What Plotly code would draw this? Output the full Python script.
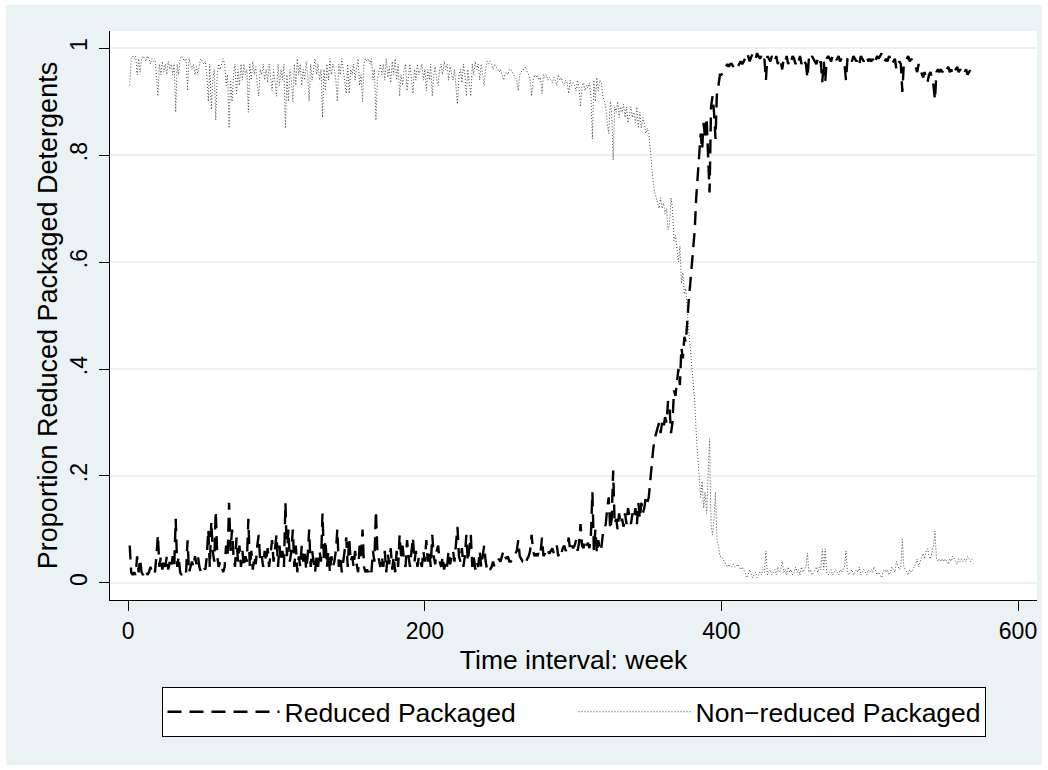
import plotly.graph_objects as go

weeks = list(range(1, 571))

reduced = [
    0.07, 0.02, 0.015, 0.02, 0.015, 0.05, 0.02, 0.045, 0.02, 0.015,
    0.02, 0.025, 0.015, 0.02, 0.03, 0.02, 0.025, 0.02, 0.05, 0.09,
    0.03, 0.05, 0.025, 0.045, 0.03, 0.05, 0.025, 0.04, 0.03, 0.05,
    0.03, 0.12, 0.03, 0.05, 0.02, 0.015, 0.02, 0.025, 0.02, 0.08,
    0.02, 0.03, 0.04, 0.03, 0.05, 0.035, 0.05, 0.03, 0.02, 0.025,
    0.03, 0.025, 0.05, 0.1, 0.03, 0.115, 0.06, 0.04, 0.135, 0.05,
    0.03, 0.04, 0.03, 0.02, 0.03, 0.07, 0.05, 0.15, 0.06, 0.1,
    0.05, 0.03, 0.085, 0.04, 0.07, 0.03, 0.06, 0.03, 0.05, 0.04,
    0.12, 0.03, 0.06, 0.025, 0.05, 0.035, 0.07, 0.09, 0.04, 0.05,
    0.03, 0.06, 0.04, 0.065, 0.03, 0.05, 0.08, 0.04, 0.06, 0.09,
    0.03, 0.07, 0.04, 0.06, 0.03, 0.15, 0.05, 0.1, 0.04, 0.06,
    0.1, 0.03, 0.07, 0.02, 0.05, 0.03, 0.07, 0.04, 0.06, 0.025,
    0.05, 0.1, 0.03, 0.06, 0.04, 0.02, 0.05, 0.03, 0.06, 0.04,
    0.13, 0.04, 0.08, 0.03, 0.06, 0.02, 0.05, 0.03, 0.04, 0.06,
    0.1, 0.03, 0.05, 0.02, 0.04, 0.07, 0.085, 0.03, 0.085, 0.04,
    0.05, 0.03, 0.06, 0.035, 0.02, 0.07, 0.05, 0.1, 0.03, 0.02,
    0.025, 0.02, 0.03, 0.02, 0.06, 0.04, 0.135, 0.06, 0.04, 0.03,
    0.05, 0.03, 0.06, 0.02, 0.055, 0.035, 0.065, 0.025, 0.05, 0.02,
    0.06, 0.03, 0.09, 0.05, 0.07, 0.04, 0.03, 0.08, 0.05, 0.03,
    0.06, 0.085, 0.04, 0.06, 0.03, 0.05, 0.04, 0.03, 0.06, 0.04,
    0.08, 0.04, 0.06, 0.03, 0.09, 0.05, 0.035, 0.06, 0.07, 0.04,
    0.03, 0.05, 0.025, 0.04, 0.03, 0.06, 0.035, 0.05, 0.06, 0.04,
    0.07, 0.105, 0.05, 0.04, 0.065, 0.03, 0.05, 0.09, 0.04, 0.06,
    0.09, 0.03, 0.05, 0.025, 0.04, 0.03, 0.06, 0.03, 0.05, 0.07,
    0.04, 0.025, 0.03, 0.025, 0.03, 0.04, 0.03, 0.035, 0.04, 0.045,
    0.04, 0.05, 0.06, 0.05, 0.045, 0.05, 0.04, 0.04, 0.045, 0.05,
    0.055, 0.06, 0.08, 0.05, 0.045, 0.04, 0.04, 0.035, 0.045, 0.05,
    0.06, 0.09, 0.06, 0.05, 0.055, 0.05, 0.06, 0.055, 0.085, 0.05,
    0.055, 0.05, 0.06, 0.055, 0.06, 0.065, 0.055, 0.06, 0.07, 0.05,
    0.06, 0.055, 0.065, 0.07, 0.06, 0.065, 0.085, 0.06, 0.07, 0.065,
    0.07, 0.08, 0.06, 0.075, 0.11, 0.07, 0.065, 0.08, 0.07, 0.075,
    0.065, 0.09, 0.17, 0.06, 0.1, 0.055, 0.08, 0.06, 0.065, 0.09,
    0.1, 0.11, 0.14, 0.16, 0.1, 0.12, 0.21, 0.11, 0.12, 0.1,
    0.13, 0.11, 0.12, 0.105, 0.13, 0.11, 0.14, 0.12, 0.11, 0.13,
    0.12, 0.14, 0.11, 0.15, 0.12, 0.15, 0.13, 0.14, 0.16, 0.15,
    0.16, 0.19, 0.23, 0.25, 0.27, 0.28, 0.29, 0.3, 0.28, 0.3,
    0.29, 0.31, 0.3, 0.34, 0.33, 0.28, 0.3, 0.36, 0.35, 0.38,
    0.4, 0.37, 0.44, 0.42, 0.46, 0.45, 0.5, 0.53, 0.56, 0.6,
    0.62, 0.66, 0.72, 0.77, 0.8, 0.84, 0.81, 0.86, 0.83, 0.87,
    0.8, 0.73, 0.89, 0.91, 0.88, 0.83, 0.92, 0.93, 0.95, 0.95,
    0.955, 0.96, 0.965, 0.97, 0.965, 0.97, 0.97, 0.965, 0.97, 0.97,
    0.965, 0.97, 0.975, 0.97, 0.975, 0.98, 0.99, 0.985, 0.975, 0.985,
    0.99, 0.985, 0.98, 0.99, 0.985, 0.98, 0.985, 0.975, 0.98, 0.94,
    0.985, 0.98, 0.975, 0.985, 0.98, 0.975, 0.985, 0.97, 0.98, 0.975,
    0.96, 0.98, 0.975, 0.985, 0.97, 0.98, 0.975, 0.985, 0.98, 0.97,
    0.98, 0.975, 0.985, 0.97, 0.98, 0.975, 0.97, 0.944, 0.98, 0.975,
    0.985, 0.98, 0.975, 0.97, 0.98, 0.97, 0.975, 0.936, 0.975, 0.936,
    0.98, 0.985, 0.98, 0.975, 0.985, 0.98, 0.975, 0.98, 0.985, 0.975,
    0.98, 0.975, 0.97, 0.94, 0.98, 0.985, 0.98, 0.975, 0.985, 0.98,
    0.975, 0.98, 0.97, 0.985, 0.98, 0.975, 0.98, 0.985, 0.975, 0.98,
    0.975, 0.98, 0.97, 0.98, 0.985, 0.98, 0.985, 0.99, 0.98, 0.975,
    0.98, 0.975, 0.985, 0.98, 0.97, 0.975, 0.98, 0.96, 0.97, 0.975,
    0.97, 0.918, 0.97, 0.975, 0.98, 0.985, 0.975, 0.98, 0.975, 0.97,
    0.965, 0.955, 0.97, 0.96, 0.95, 0.945, 0.955, 0.94, 0.936, 0.95,
    0.955, 0.945, 0.93, 0.903, 0.955, 0.96, 0.955, 0.96, 0.955, 0.96,
    0.955, 0.96, 0.965, 0.955, 0.96, 0.95, 0.955, 0.96, 0.965, 0.955,
    0.96, 0.955, 0.96, 0.955, 0.96, 0.95, 0.955, 0.96, 0.955, 0.955,
]

non_reduced = [
    0.93, 0.98, 0.985, 0.98, 0.985, 0.95, 0.98, 0.955, 0.98, 0.985,
    0.98, 0.975, 0.985, 0.98, 0.97, 0.98, 0.975, 0.98, 0.95, 0.91,
    0.97, 0.95, 0.975, 0.955, 0.97, 0.95, 0.975, 0.96, 0.97, 0.95,
    0.97, 0.88, 0.97, 0.95, 0.98, 0.985, 0.98, 0.975, 0.98, 0.92,
    0.98, 0.97, 0.96, 0.97, 0.95, 0.965, 0.95, 0.97, 0.98, 0.975,
    0.97, 0.975, 0.95, 0.9, 0.97, 0.885, 0.94, 0.96, 0.865, 0.95,
    0.97, 0.96, 0.97, 0.98, 0.97, 0.93, 0.95, 0.85, 0.94, 0.9,
    0.95, 0.97, 0.915, 0.96, 0.93, 0.97, 0.94, 0.97, 0.95, 0.96,
    0.88, 0.97, 0.94, 0.975, 0.95, 0.965, 0.93, 0.91, 0.96, 0.95,
    0.97, 0.94, 0.96, 0.935, 0.97, 0.95, 0.92, 0.96, 0.94, 0.91,
    0.97, 0.93, 0.96, 0.94, 0.97, 0.85, 0.95, 0.9, 0.96, 0.94,
    0.9, 0.97, 0.93, 0.98, 0.95, 0.97, 0.93, 0.96, 0.94, 0.975,
    0.95, 0.9, 0.97, 0.94, 0.96, 0.98, 0.95, 0.97, 0.94, 0.96,
    0.87, 0.96, 0.92, 0.97, 0.94, 0.98, 0.95, 0.97, 0.96, 0.94,
    0.9, 0.97, 0.95, 0.98, 0.96, 0.93, 0.915, 0.97, 0.915, 0.96,
    0.95, 0.97, 0.94, 0.965, 0.98, 0.93, 0.95, 0.9, 0.97, 0.98,
    0.975, 0.98, 0.97, 0.98, 0.94, 0.96, 0.865, 0.94, 0.96, 0.97,
    0.95, 0.97, 0.94, 0.98, 0.945, 0.965, 0.935, 0.975, 0.95, 0.98,
    0.94, 0.97, 0.91, 0.95, 0.93, 0.96, 0.97, 0.92, 0.95, 0.97,
    0.94, 0.915, 0.96, 0.94, 0.97, 0.95, 0.96, 0.97, 0.94, 0.96,
    0.92, 0.96, 0.94, 0.97, 0.91, 0.95, 0.965, 0.94, 0.93, 0.96,
    0.97, 0.95, 0.975, 0.96, 0.97, 0.94, 0.965, 0.95, 0.94, 0.96,
    0.93, 0.895, 0.95, 0.96, 0.935, 0.97, 0.95, 0.91, 0.96, 0.94,
    0.91, 0.97, 0.95, 0.975, 0.96, 0.97, 0.94, 0.97, 0.95, 0.93,
    0.96, 0.975, 0.97, 0.975, 0.97, 0.96, 0.97, 0.965, 0.96, 0.955,
    0.96, 0.95, 0.94, 0.95, 0.955, 0.95, 0.96, 0.96, 0.955, 0.95,
    0.945, 0.94, 0.92, 0.95, 0.955, 0.96, 0.96, 0.965, 0.955, 0.95,
    0.94, 0.91, 0.94, 0.95, 0.945, 0.95, 0.94, 0.945, 0.915, 0.95,
    0.945, 0.95, 0.94, 0.945, 0.94, 0.935, 0.945, 0.94, 0.93, 0.95,
    0.94, 0.945, 0.935, 0.93, 0.94, 0.935, 0.915, 0.94, 0.93, 0.935,
    0.93, 0.92, 0.94, 0.925, 0.89, 0.93, 0.935, 0.92, 0.93, 0.925,
    0.935, 0.91, 0.83, 0.94, 0.9, 0.945, 0.92, 0.94, 0.935, 0.91,
    0.9, 0.89, 0.86, 0.84, 0.9, 0.88, 0.79, 0.89, 0.88, 0.9,
    0.87, 0.89, 0.88, 0.895, 0.87, 0.89, 0.86, 0.88, 0.89, 0.87,
    0.88, 0.86, 0.89, 0.85, 0.88, 0.85, 0.87, 0.86, 0.84, 0.85,
    0.84, 0.81, 0.77, 0.75, 0.73, 0.72, 0.71, 0.7, 0.72, 0.7,
    0.71, 0.69, 0.7, 0.66, 0.67, 0.72, 0.7, 0.64, 0.65, 0.62,
    0.6, 0.63, 0.56, 0.58, 0.54, 0.55, 0.5, 0.47, 0.44, 0.4,
    0.38, 0.34, 0.28, 0.23, 0.2, 0.16, 0.19, 0.14, 0.17, 0.13,
    0.2, 0.27, 0.11, 0.09, 0.12, 0.17, 0.08, 0.07, 0.05, 0.05,
    0.045, 0.04, 0.035, 0.03, 0.035, 0.03, 0.03, 0.035, 0.03, 0.03,
    0.035, 0.03, 0.025, 0.03, 0.025, 0.02, 0.01, 0.015, 0.025, 0.015,
    0.01, 0.015, 0.02, 0.01, 0.015, 0.02, 0.015, 0.025, 0.02, 0.06,
    0.015, 0.02, 0.025, 0.015, 0.02, 0.025, 0.015, 0.03, 0.02, 0.025,
    0.04, 0.02, 0.025, 0.015, 0.03, 0.02, 0.025, 0.015, 0.02, 0.03,
    0.02, 0.025, 0.015, 0.03, 0.02, 0.025, 0.03, 0.056, 0.02, 0.025,
    0.015, 0.02, 0.025, 0.03, 0.02, 0.03, 0.025, 0.064, 0.025, 0.064,
    0.02, 0.015, 0.02, 0.025, 0.015, 0.02, 0.025, 0.02, 0.015, 0.025,
    0.02, 0.025, 0.03, 0.06, 0.02, 0.015, 0.02, 0.025, 0.015, 0.02,
    0.025, 0.02, 0.03, 0.015, 0.02, 0.025, 0.02, 0.015, 0.025, 0.02,
    0.025, 0.02, 0.03, 0.02, 0.015, 0.02, 0.015, 0.01, 0.02, 0.025,
    0.02, 0.025, 0.015, 0.02, 0.03, 0.025, 0.02, 0.04, 0.03, 0.025,
    0.03, 0.082, 0.03, 0.025, 0.02, 0.015, 0.025, 0.02, 0.025, 0.03,
    0.035, 0.045, 0.03, 0.04, 0.05, 0.055, 0.045, 0.06, 0.064, 0.05,
    0.045, 0.055, 0.07, 0.097, 0.045, 0.04, 0.045, 0.04, 0.045, 0.04,
    0.045, 0.04, 0.035, 0.045, 0.04, 0.05, 0.045, 0.04, 0.035, 0.045,
    0.04, 0.045, 0.04, 0.045, 0.04, 0.05, 0.045, 0.04, 0.045, 0.045,
]

y_ticks = [0, 0.2, 0.4, 0.6, 0.8, 1]
y_tick_labels = ["0", ".2", ".4", ".6", ".8", "1"]
x_ticks = [0, 200, 400, 600]
x_tick_labels = ["0", "200", "400", "600"]

BG = "#EAF2F3"
FONT = "Liberation Sans, Arial, Helvetica, sans-serif"

fig = go.Figure()
fig.add_trace(go.Scatter(
    x=weeks, y=reduced, mode="lines", name="Reduced Packaged",
    line=dict(color="#000000", width=2.4, dash="14px,8px"),
))
fig.add_trace(go.Scatter(
    x=weeks, y=non_reduced, mode="lines", name="Non\u2212reduced Packaged",
    line=dict(color="#444444", width=1, dash="1px,2px"),
))

L, R, T, B = 110, 11, 31, 170
W, H = 1048, 770
pw = W - L - R
ph = H - T - B

fig.update_layout(
    width=W, height=H,
    margin=dict(l=L, r=R, t=T, b=B, pad=0),
    paper_bgcolor="white",
    plot_bgcolor="white",
    font=dict(family=FONT, color="#000000", size=23),
    shapes=[
        dict(type="rect", xref="paper", yref="paper", layer="below",
             x0=(6 - L) / pw, x1=(W - 6 - L) / pw,
             y0=(T + ph - (H - 5)) / ph, y1=(T + ph - 5) / ph,
             fillcolor=BG, line=dict(width=0)),
        dict(type="rect", xref="paper", yref="paper", layer="below",
             x0=0, x1=1, y0=0, y1=1,
             fillcolor="white", line=dict(width=0)),
    ],
    xaxis=dict(
        range=[-12.3, 612.8],
        tickmode="array", tickvals=x_ticks, ticktext=x_tick_labels,
        ticks="outside", ticklen=10, tickwidth=1, tickcolor="#000000",
        showline=True, linecolor="#000000", linewidth=1,
        showgrid=False, zeroline=False,
        tickfont=dict(size=23),
        title=dict(text="Time interval: week", font=dict(size=26.5), standoff=7),
    ),
    yaxis=dict(
        range=[-0.0318, 1.0318],
        tickmode="array", tickvals=y_ticks, ticktext=y_tick_labels,
        ticks="outside", ticklen=10, tickwidth=1, tickcolor="#000000",
        tickangle=-90, ticklabelstandoff=3,
        showline=True, linecolor="#000000", linewidth=1,
        showgrid=True, gridcolor=BG, gridwidth=1.5, zeroline=False,
        tickfont=dict(size=23),
        title=dict(text="Proportion Reduced Packaged Detergents", font=dict(size=27), standoff=0),
    ),
    legend=dict(
        orientation="h", x=0.5, xanchor="center",
        y=(T + ph - 687) / ph, yanchor="top",
        bgcolor="white", bordercolor="#000000", borderwidth=1,
        font=dict(size=26.5), itemwidth=112,
        entrywidth=284, entrywidthmode="pixels",
        itemclick=False, itemdoubleclick=False,
    ),
    showlegend=True,
)

fig.write_html("out.html")
